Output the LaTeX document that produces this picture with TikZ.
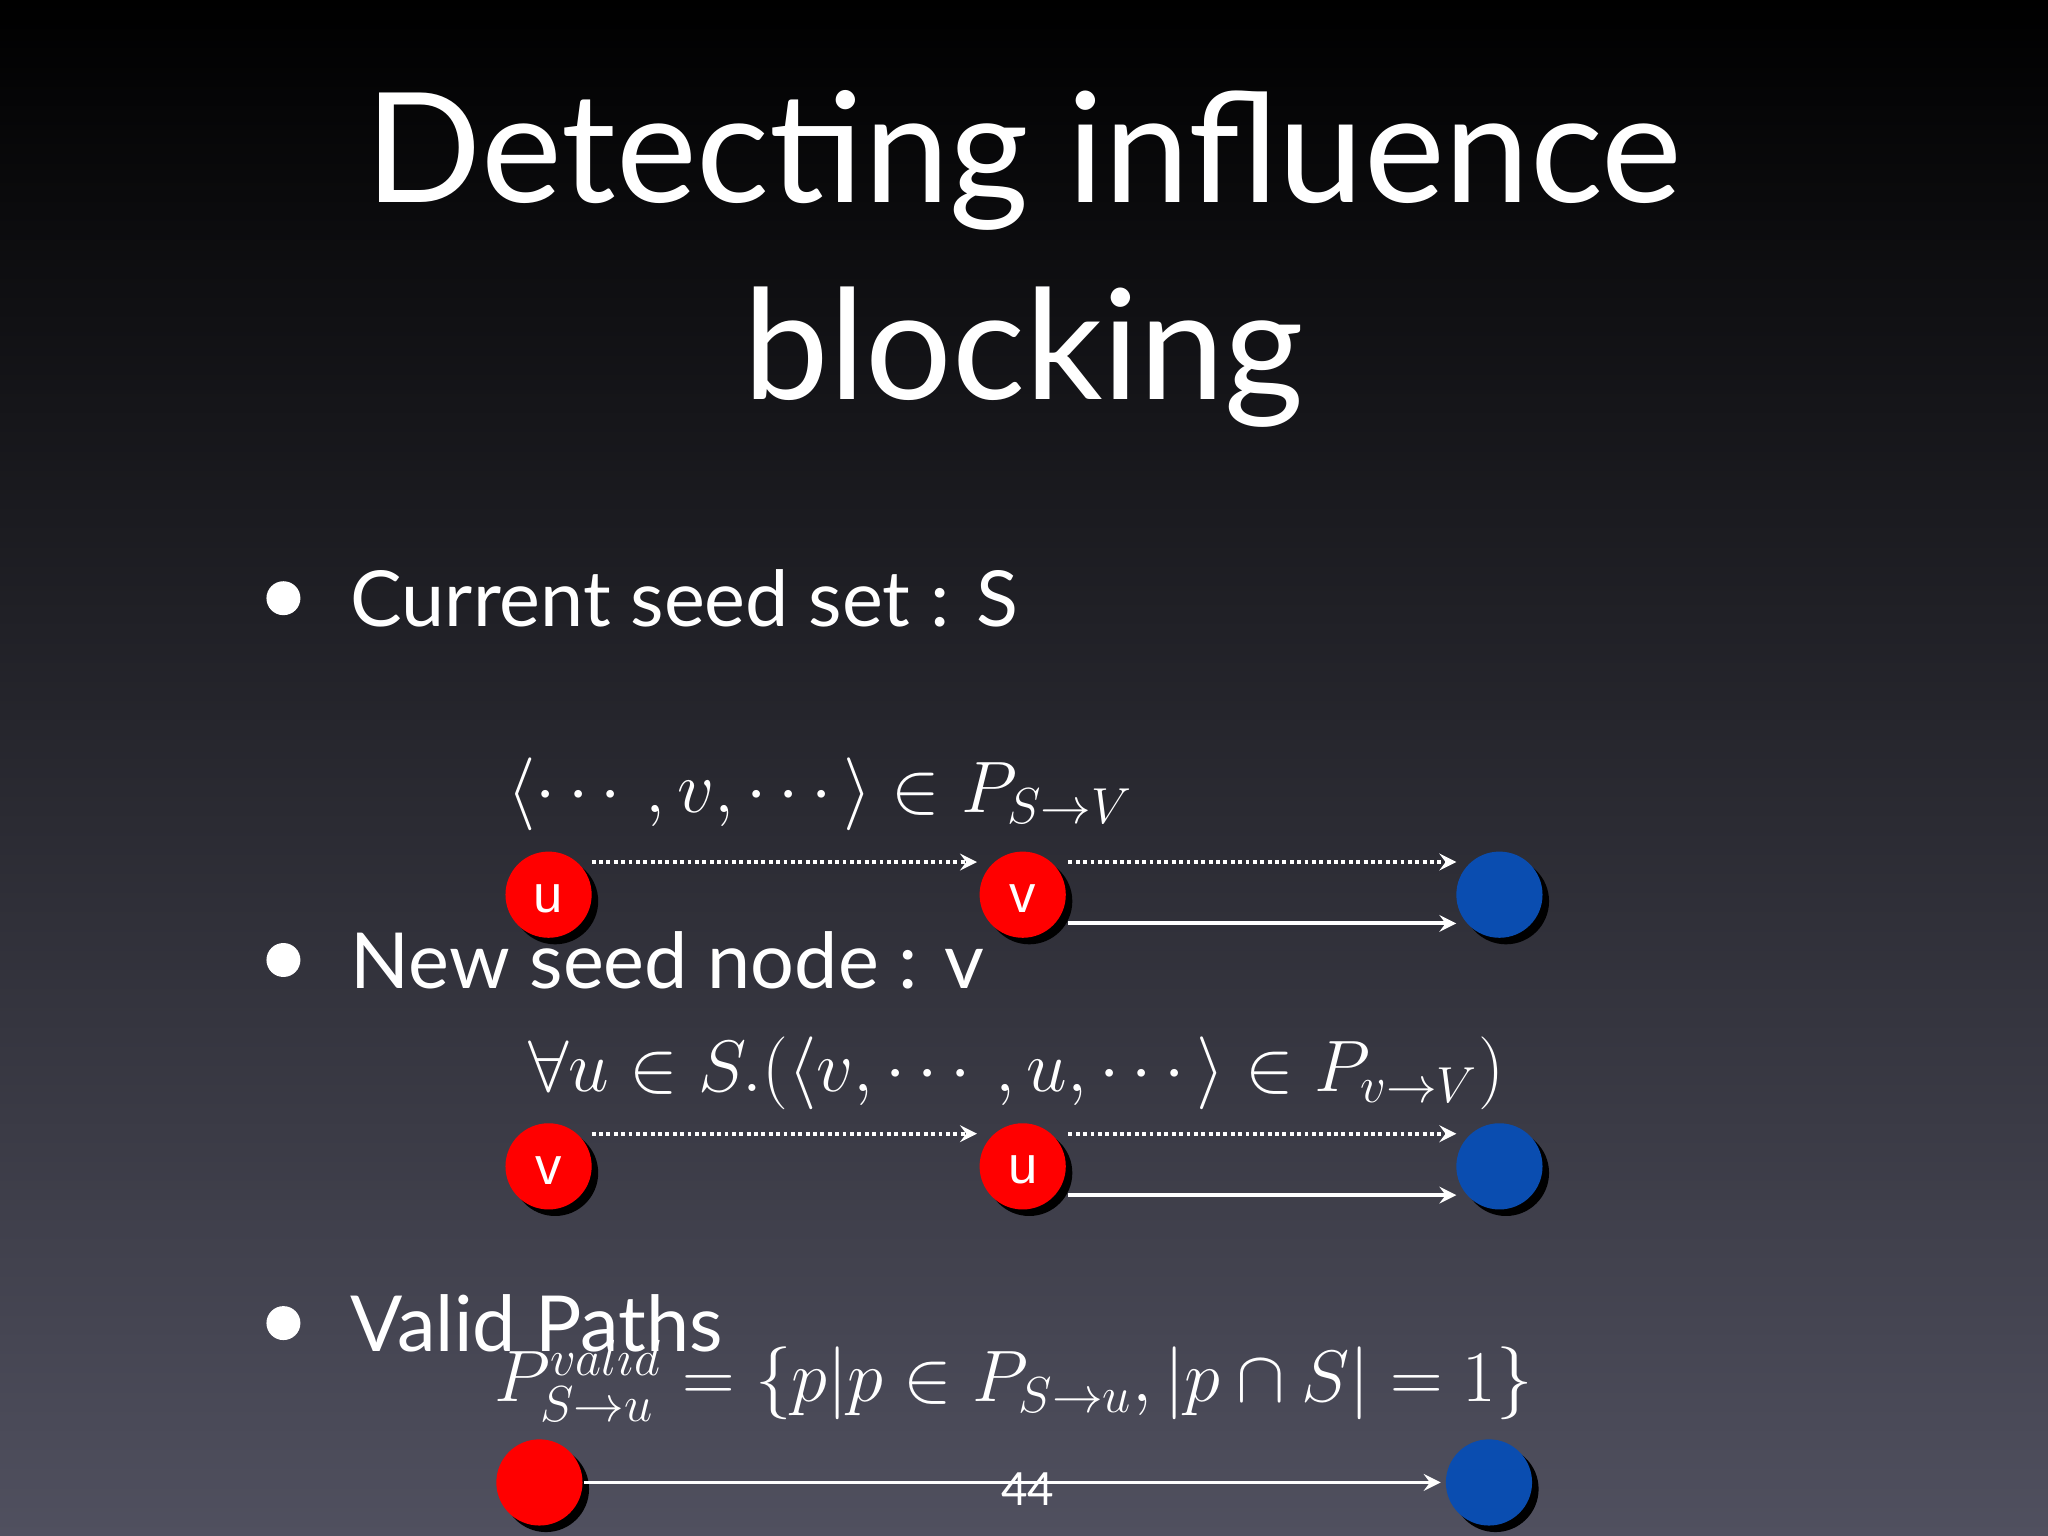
\documentclass[tikz,border=0pt]{standalone}
\usepackage{fontspec}
\usepackage{amsmath}
\setsansfont{Lato}
\newfontfamily\lab{Liberation Sans}
\definecolor{bgtop}{HTML}{000000}
\definecolor{bgmid}{HTML}{1E2030}
\definecolor{bgbot}{HTML}{50505F}
\definecolor{nodeblue}{HTML}{0A4DB0}
\begin{document}
\begin{tikzpicture}[x=0.013061cm,y=-0.013061cm,
  dotline/.style={draw=white,densely dotted,line width=1.1pt,-stealth},
  solidline/.style={draw=white,line width=1.1pt,-stealth},
  bul/.style={anchor=west,text=white,font=\sffamily\fontsize{22}{26}\selectfont},
  formula/.style={text=white,font=\fontsize{19.5}{24}\selectfont}]
\shade[top color=bgtop,middle color=bgmid,bottom color=bgbot] (0,0) rectangle (1568,1176);
\useasboundingbox (0,0) rectangle (1568,1176);
\node[text=white,font=\sffamily\fontsize{43.5}{56}\selectfont,align=center] (title) at (784,198) {Detecting influence\\blocking};
\foreach \y/\t/\n in {458/Current seed set : S/b1, 735/New seed node : v/b2, 1013/Valid Paths/b3}{
  \fill[white] (217,\y) circle (13);
  \node[bul] (\n) at (259,\y) {\t};
}
\node[formula] (f1) at (628,608) {$\langle\cdots,v,\cdots\rangle\in P_{S\to V}$};
\node[formula] (f2) at (778,822) {$\forall u\in S.(\langle v,\cdots,u,\cdots\rangle\in P_{v\to V})$};
\node[formula,font=\fontsize{20.5}{24}\selectfont] (f3) at (776,1057) {$P^{valid}_{S\to u}=\{p|p\in P_{S\to u},|p\cap S|=1\}$};
\newcommand{\mynode}[5]{%
  \fill[black] (#2+5,#3+5) circle (33);
  \fill[#4] (#2,#3) circle (33);
  \node[text=white,font=\lab\fontsize{15}{15}\selectfont] (#1) at (#2,#3+3) {#5};
  \coordinate (#1c) at (#2,#3);}
\mynode{a1}{420}{685}{red}{u}
\mynode{a2}{783}{685}{red}{v}
\mynode{a3}{1148}{685}{nodeblue}{}
\mynode{c1}{420}{893}{red}{v}
\mynode{c2}{783}{893}{red}{u}
\mynode{c3}{1148}{893}{nodeblue}{}
\mynode{d1}{413}{1135}{red}{}
\mynode{d3}{1140}{1135}{nodeblue}{}
\coordinate (p1) at (453,660); \coordinate (p2) at (748,660);
\coordinate (p3) at (818,660); \coordinate (p4) at (1115,660);
\coordinate (p5) at (818,707); \coordinate (p6) at (1115,707);
\draw[dotline] (p1) -- (p2); \draw[dotline] (p3) -- (p4); \draw[solidline] (p5) -- (p6);
\coordinate (q1) at (453,868); \coordinate (q2) at (748,868);
\coordinate (q3) at (818,868); \coordinate (q4) at (1115,868);
\coordinate (q5) at (818,915); \coordinate (q6) at (1115,915);
\draw[dotline] (q1) -- (q2); \draw[dotline] (q3) -- (q4); \draw[solidline] (q5) -- (q6);
\coordinate (r1) at (447,1135); \coordinate (r2) at (1103,1135);
\draw[solidline] (r1) -- (r2);
\node[text=white,font=\sffamily\fontsize{13}{13}\selectfont] (pg) at (787,1140) {44};
\end{tikzpicture}
\end{document}
